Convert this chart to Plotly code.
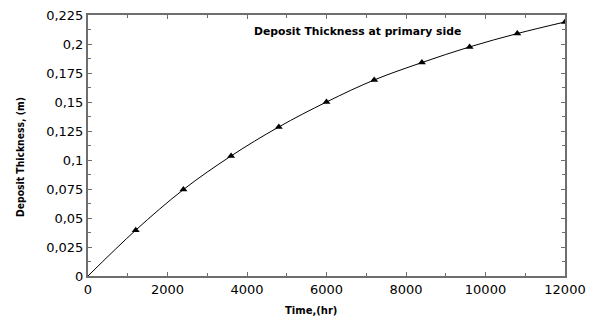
import plotly.graph_objects as go

time_hr = [0, 1200, 2400, 3600, 4800, 6000, 7200, 8400, 9600, 10800, 12000]
thickness_m = [0, 0.0395, 0.0745, 0.1035, 0.1285, 0.1500, 0.1690, 0.1840, 0.1975, 0.2090, 0.2190]

x_tickvals = [0, 2000, 4000, 6000, 8000, 10000, 12000]
x_ticktext = ["0", "2000", "4000", "6000", "8000", "10000", "12000"]
y_tickvals = [0, 0.025, 0.05, 0.075, 0.1, 0.125, 0.15, 0.175, 0.2, 0.225]
y_ticktext = ["0", "0,025", "0,05", "0,075", "0,1", "0,125", "0,15", "0,175", "0,2", "0,225"]

fig = go.Figure()
fig.add_trace(go.Scatter(
    x=time_hr, y=thickness_m, mode="lines",
    line=dict(color="black", width=1, shape="spline"),
    showlegend=False, hoverinfo="skip"))
fig.add_trace(go.Scatter(
    x=time_hr[1:], y=thickness_m[1:], mode="markers",
    marker=dict(symbol="triangle-up", size=7, color="black"),
    showlegend=False))

axis_common = dict(
    showline=True, linecolor="#6e6e6e", linewidth=2, mirror="ticks",
    ticks="inside", ticklen=4, tickcolor="#6e6e6e", tickwidth=1,
    showgrid=False, zeroline=False, automargin=False,
    ticklabeloverflow="allow",
    tickfont=dict(family="DejaVu Sans", size=13, color="black"),
)

fig.update_xaxes(
    range=[0, 12000], tickvals=x_tickvals, ticktext=x_ticktext,
    minor=dict(dtick=1000, ticks="inside", ticklen=3, tickcolor="#6e6e6e"),
    **axis_common)
fig.update_yaxes(
    range=[0, 0.225], tickvals=y_tickvals, ticktext=y_ticktext,
    minor=dict(dtick=0.0125, ticks="inside", ticklen=3, tickcolor="#6e6e6e"),
    **axis_common)

fig.add_annotation(
    x=0.4675, y=-0.131, xref="paper", yref="paper", xanchor="center", yanchor="middle",
    text="<b>Time,(hr)</b>", showarrow=False,
    font=dict(family="DejaVu Sans", size=10, color="black"))
fig.add_annotation(
    x=-0.1426, y=0.456, xref="paper", yref="paper", xanchor="center", yanchor="middle",
    text="<b>Deposit Thickness, (m)</b>", showarrow=False, textangle=-90,
    font=dict(family="DejaVu Sans Condensed", size=10.3, color="black"))
fig.add_annotation(
    x=0.564, y=0.935, xref="paper", yref="paper", xanchor="center", yanchor="middle",
    text="<b>Deposit Thickness at primary side</b>", showarrow=False,
    font=dict(family="DejaVu Sans", size=10.8, color="black"))

fig.update_layout(
    width=597, height=323,
    margin=dict(l=80, r=40, t=7, b=55),
    paper_bgcolor="white", plot_bgcolor="white",
)

fig.write_html("out.html")
